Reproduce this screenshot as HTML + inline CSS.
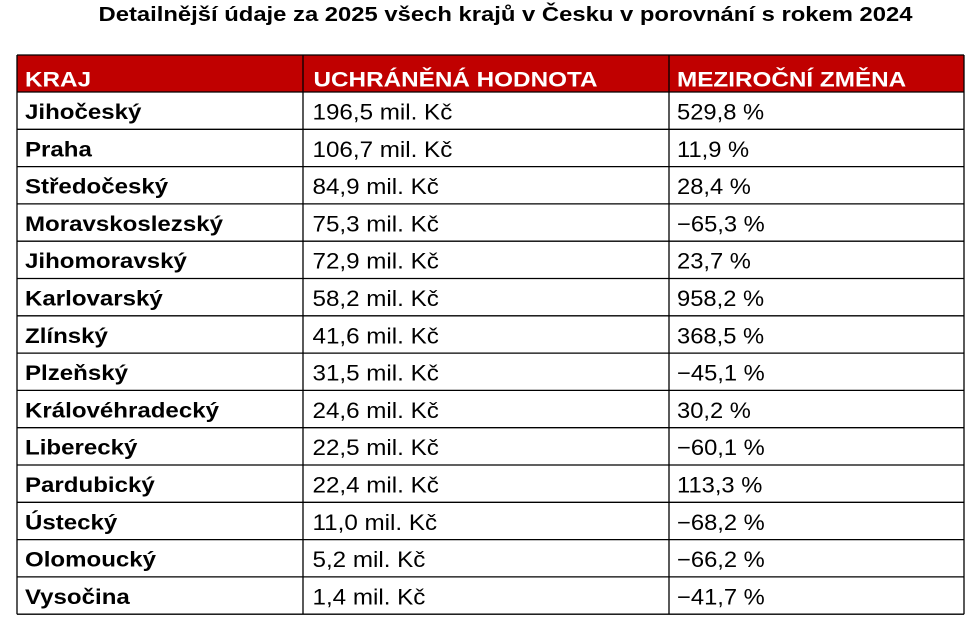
<!DOCTYPE html>
<html>
<head>
<meta charset="utf-8">
<style>
html,body{margin:0;padding:0;background:#fff;}
body{width:978px;height:626px;overflow:hidden;}
svg{display:block;}
text{font-family:"Liberation Sans",Arial,sans-serif;}
.b{font-weight:bold;font-size:21.5px;fill:#000;}
.h{font-weight:bold;font-size:21.3px;fill:#fff;}
.r{font-size:22px;fill:#000;}
</style>
</head>
<body>
<svg width="978" height="626" viewBox="0 0 978 626" xmlns="http://www.w3.org/2000/svg">
  <text x="98.5" y="21" font-size="20" font-weight="bold" fill="#000" textLength="814" lengthAdjust="spacingAndGlyphs">Detailnější údaje za 2025 všech krajů v Česku v porovnání s rokem 2024</text>

  <rect x="17" y="55" width="947" height="37" fill="#C00000"/>

  <!-- header -->
  <g transform="translate(25 0) scale(1.14 1)"><text class="h" x="0" y="86.5">KRAJ</text></g>
  <g transform="translate(313.5 0) scale(1.14 1)"><text class="h" x="0" y="86.5">UCHRÁNĚNÁ HODNOTA</text></g>
  <g transform="translate(677 0) scale(1.14 1)"><text class="h" x="0" y="86.5">MEZIROČNÍ ZMĚNA</text></g>

  <!-- column 1 -->
  <g transform="translate(25 0) scale(1.12 1)">
    <text class="b" x="0" y="119">Jihočeský</text>
    <text class="b" x="0" y="156.3">Praha</text>
    <text class="b" x="0" y="193.6">Středočeský</text>
    <text class="b" x="0" y="230.9">Moravskoslezský</text>
    <text class="b" x="0" y="268.2">Jihomoravský</text>
    <text class="b" x="0" y="305.5">Karlovarský</text>
    <text class="b" x="0" y="342.8">Zlínský</text>
    <text class="b" x="0" y="380.1">Plzeňský</text>
    <text class="b" x="0" y="417.4">Královéhradecký</text>
    <text class="b" x="0" y="454.7">Liberecký</text>
    <text class="b" x="0" y="492">Pardubický</text>
    <text class="b" x="0" y="529.3">Ústecký</text>
    <text class="b" x="0" y="566.6">Olomoucký</text>
    <text class="b" x="0" y="603.9">Vysočina</text>
  </g>

  <!-- column 2 -->
  <g transform="translate(312.5 0) scale(1.1 1)">
    <text class="r" x="0" y="119.5">196,5 mil. Kč</text>
    <text class="r" x="0" y="156.8">106,7 mil. Kč</text>
    <text class="r" x="0" y="194.1">84,9 mil. Kč</text>
    <text class="r" x="0" y="231.4">75,3 mil. Kč</text>
    <text class="r" x="0" y="268.7">72,9 mil. Kč</text>
    <text class="r" x="0" y="306">58,2 mil. Kč</text>
    <text class="r" x="0" y="343.3">41,6 mil. Kč</text>
    <text class="r" x="0" y="380.6">31,5 mil. Kč</text>
    <text class="r" x="0" y="417.9">24,6 mil. Kč</text>
    <text class="r" x="0" y="455.2">22,5 mil. Kč</text>
    <text class="r" x="0" y="492.5">22,4 mil. Kč</text>
    <text class="r" x="0" y="529.8">11,0 mil. Kč</text>
    <text class="r" x="0" y="567.1">5,2 mil. Kč</text>
    <text class="r" x="0" y="604.4">1,4 mil. Kč</text>
  </g>

  <!-- column 3 -->
  <g transform="translate(677 0) scale(1.08 1)">
    <text class="r" x="0" y="119.5">529,8 %</text>
    <text class="r" x="0" y="156.8">11,9 %</text>
    <text class="r" x="0" y="194.1">28,4 %</text>
    <text class="r" x="0" y="231.4">−65,3 %</text>
    <text class="r" x="0" y="268.7">23,7 %</text>
    <text class="r" x="0" y="306">958,2 %</text>
    <text class="r" x="0" y="343.3">368,5 %</text>
    <text class="r" x="0" y="380.6">−45,1 %</text>
    <text class="r" x="0" y="417.9">30,2 %</text>
    <text class="r" x="0" y="455.2">−60,1 %</text>
    <text class="r" x="0" y="492.5">113,3 %</text>
    <text class="r" x="0" y="529.8">−68,2 %</text>
    <text class="r" x="0" y="567.1">−66,2 %</text>
    <text class="r" x="0" y="604.4">−41,7 %</text>
  </g>

  <!-- grid -->
  <g stroke="#000" stroke-width="1.3" fill="none">
    <line x1="17" y1="55" x2="964" y2="55"/>
    <line x1="17" y1="92" x2="964" y2="92"/>
    <line x1="17" y1="129.3" x2="964" y2="129.3"/>
    <line x1="17" y1="166.6" x2="964" y2="166.6"/>
    <line x1="17" y1="203.9" x2="964" y2="203.9"/>
    <line x1="17" y1="241.2" x2="964" y2="241.2"/>
    <line x1="17" y1="278.5" x2="964" y2="278.5"/>
    <line x1="17" y1="315.8" x2="964" y2="315.8"/>
    <line x1="17" y1="353.1" x2="964" y2="353.1"/>
    <line x1="17" y1="390.4" x2="964" y2="390.4"/>
    <line x1="17" y1="427.7" x2="964" y2="427.7"/>
    <line x1="17" y1="465" x2="964" y2="465"/>
    <line x1="17" y1="502.3" x2="964" y2="502.3"/>
    <line x1="17" y1="539.6" x2="964" y2="539.6"/>
    <line x1="17" y1="576.9" x2="964" y2="576.9"/>
    <line x1="17" y1="614.2" x2="964" y2="614.2"/>
    <line x1="17" y1="55" x2="17" y2="614.2"/>
    <line x1="303" y1="55" x2="303" y2="614.2"/>
    <line x1="669" y1="55" x2="669" y2="614.2"/>
    <line x1="964" y1="55" x2="964" y2="614.2"/>
  </g>
</svg>
</body>
</html>
